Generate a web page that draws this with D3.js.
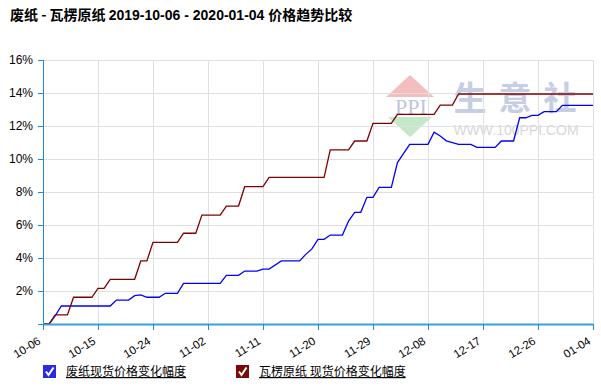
<!DOCTYPE html>
<html>
<head>
<meta charset="utf-8">
<script src="https://cdn.jsdelivr.net/npm/d3@7"></script>
<style>
  body { margin: 0; background: #fff; }
  svg { display: block; }
  .axis text { font-family: Arial, "Liberation Sans", sans-serif; fill: #000; }
</style>
</head>
<body>
<svg id="chart" width="601" height="392"></svg>
<script>
// tick labels
var xTickDates = ["2019-10-06", "2019-10-15", "2019-10-24", "2019-11-02", "2019-11-11", "2019-11-20",
                  "2019-11-29", "2019-12-08", "2019-12-17", "2019-12-26", "2020-01-04"];
var yTicks = [0, 2, 4, 6, 8, 10, 12, 14, 16];

// 废纸 series
var wasteDates = ["2019-10-06", "2019-10-07", "2019-10-08", "2019-10-09", "2019-10-17", "2019-10-18",
  "2019-10-20", "2019-10-21", "2019-10-22", "2019-10-23", "2019-10-25", "2019-10-26", "2019-10-28",
  "2019-10-29", "2019-11-04", "2019-11-05", "2019-11-07", "2019-11-08", "2019-11-10", "2019-11-11",
  "2019-11-12", "2019-11-14", "2019-11-17", "2019-11-18", "2019-11-19", "2019-11-20", "2019-11-21",
  "2019-11-22", "2019-11-24", "2019-11-25", "2019-11-26", "2019-11-27", "2019-11-28", "2019-11-29",
  "2019-11-30", "2019-12-02", "2019-12-03", "2019-12-05", "2019-12-08", "2019-12-09", "2019-12-10",
  "2019-12-11", "2019-12-13", "2019-12-15", "2019-12-16", "2019-12-19", "2019-12-20", "2019-12-22",
  "2019-12-23", "2019-12-24", "2019-12-25", "2019-12-26", "2019-12-27", "2019-12-29", "2019-12-30",
  "2020-01-04"];
var wasteValues = [0, 0, 0.5, 1.09, 1.09, 1.45,
  1.45, 1.72, 1.76, 1.62, 1.62, 1.86, 1.86,
  2.46, 2.46, 2.95, 2.95, 3.21, 3.21, 3.33,
  3.33, 3.82, 3.82, 4.22, 4.55, 5.13, 5.13,
  5.39, 5.39, 6.24, 6.77, 6.77, 7.68, 7.68,
  8.28, 8.28, 9.78, 10.89, 10.89, 11.62, 11.39,
  11.1, 10.89, 10.89, 10.7, 10.7, 11.09, 11.09,
  12.5, 12.5, 12.65, 12.65, 12.87, 12.87, 13.25,
  13.25];

// 瓦楞原纸 series
var paperDates = ["2019-10-06", "2019-10-07", "2019-10-08", "2019-10-10", "2019-10-11", "2019-10-14",
  "2019-10-15", "2019-10-16", "2019-10-17", "2019-10-21", "2019-10-22", "2019-10-23", "2019-10-24",
  "2019-10-28", "2019-10-29", "2019-10-31", "2019-11-01", "2019-11-04", "2019-11-05", "2019-11-07",
  "2019-11-08", "2019-11-11", "2019-11-12", "2019-11-21", "2019-11-22", "2019-11-25", "2019-11-26",
  "2019-11-28", "2019-11-29", "2019-12-02", "2019-12-03", "2019-12-09", "2019-12-10", "2019-12-12",
  "2019-12-13", "2020-01-04"];
var paperValues = [0, 0, 0.55, 0.55, 1.62, 1.62,
  2.16, 2.16, 2.71, 2.71, 3.82, 3.82, 4.95,
  4.95, 5.5, 5.5, 6.6, 6.6, 7.15, 7.15,
  8.32, 8.32, 8.89, 8.89, 10.55, 10.55, 11.09,
  11.09, 12.16, 12.16, 12.71, 12.71, 13.27, 13.27,
  13.94, 13.94];

var seriesNames = ["废纸现货价格变化幅度", "瓦楞原纸 现货价格变化幅度"];
var seriesColors = ["#0000ff", "#800000"];
var boxColors = ["#2a2ae6", "#7a0a0a"];

var parse = d3.utcParse("%Y-%m-%d");
var fmt = d3.utcFormat("%m-%d");

var margin = { top: 60, right: 8, bottom: 68, left: 43 },
    width = 601 - margin.left - margin.right,
    height = 392 - margin.top - margin.bottom;

var svg = d3.select("#chart");

// title
var title = svg.append("text")
    .attr("x", 10).attr("y", 20)
    .style("font-weight", "bold")
    .style("font-size", "14px");
title.append("tspan").style("font-family", "'Noto Sans CJK SC', sans-serif").text("废纸 - 瓦楞原纸 ");
title.append("tspan").style("font-family", "'Liberation Sans Narrow', 'Liberation Sans', sans-serif").text("2019-10-06 - 2020-01-04 ");
title.append("tspan").style("font-family", "'Noto Sans CJK SC', sans-serif").text("价格趋势比较");

var g = svg.append("g")
    .attr("transform", "translate(" + margin.left + "," + margin.top + ")");

var x = d3.scaleUtc()
    .domain([parse(xTickDates[0]), parse(xTickDates[xTickDates.length - 1])])
    .range([0, width]);
var y = d3.scaleLinear().domain([0, 16]).range([height, 0]);

// watermark
var wm = g.append("g").attr("opacity", 0.9);
wm.append("path").attr("d", "M367,15 L391,37 L343,37 Z").attr("fill", "#f4b8b8");
wm.append("path").attr("d", "M345,57 L389,57 L367,77 Z").attr("fill", "#bfe6c4");
wm.append("text").attr("x", 368).attr("y", 54).attr("text-anchor", "middle")
    .style("font-family", "'Liberation Serif', serif").style("font-size", "22px")
    .attr("fill", "#b8c0da").text("PPI");
wm.append("text").attr("x", 478).attr("y", 50).attr("text-anchor", "middle")
    .style("font-family", "'Noto Sans CJK SC', sans-serif").style("font-weight", "bold")
    .style("font-size", "33px").style("letter-spacing", "12px")
    .attr("fill", "#c0c9e0").text("生意社");
wm.append("text").attr("x", 473).attr("y", 75).attr("text-anchor", "middle")
    .style("font-family", "Arial, 'Liberation Sans', sans-serif")
    .style("font-size", "14px").attr("fill", "#d4d4d4").text("WWW.100PPI.COM");

// grid
g.append("g").selectAll("line.h").data(yTicks.slice(1)).enter().append("line")
    .attr("x1", 0).attr("x2", width)
    .attr("y1", function(d) { return Math.round(y(d)) + 0.5; })
    .attr("y2", function(d) { return Math.round(y(d)) + 0.5; })
    .attr("stroke", "#e0e0e0");
g.append("g").selectAll("line.v").data(xTickDates.slice(1)).enter().append("line")
    .attr("y1", 0).attr("y2", height)
    .attr("x1", function(d) { return Math.round(x(parse(d))) + 0.5; })
    .attr("x2", function(d) { return Math.round(x(parse(d))) + 0.5; })
    .attr("stroke", "#e0e0e0");

// lines
var line = d3.line()
    .x(function(d) { return x(d.date); })
    .y(function(d) { return y(d.value); });

function toPoints(dates, values) {
  return dates.map(function(d, i) { return { date: parse(d), value: values[i] }; });
}
var series = [toPoints(wasteDates, wasteValues), toPoints(paperDates, paperValues)];

g.selectAll("path.series").data(series).enter().append("path")
    .attr("class", "series")
    .attr("d", line)
    .attr("fill", "none")
    .attr("stroke", function(d, i) { return seriesColors[i]; })
    .attr("stroke-width", 1.3);

// y axis
var yAxis = g.append("g").attr("class", "axis")
    .call(d3.axisLeft(y).tickValues(yTicks).tickSize(5).tickPadding(5)
      .tickFormat(function(d) { return d === 0 ? "" : d + "%"; }));
yAxis.select(".domain").attr("stroke", "#1a8fd1").attr("d", "M0.5," + height + "V0");
yAxis.selectAll(".tick line").attr("stroke", "#1a8fd1");
yAxis.selectAll("text").style("font-size", "12px");

// x axis
var xAxis = g.append("g").attr("class", "axis")
    .attr("transform", "translate(0," + height + ")")
    .call(d3.axisBottom(x).tickValues(xTickDates.map(parse)).tickSize(6).tickFormat(fmt));
xAxis.select(".domain").attr("stroke", "#3b9ddb").attr("stroke-width", 2).attr("d", "M0,0.5H" + width);
xAxis.selectAll(".tick line").attr("stroke", "#1a8fd1");
xAxis.selectAll("text")
    .style("font-size", "11.5px")
    .attr("text-anchor", "end")
    .attr("dy", null)
    .attr("y", 0)
    .attr("transform", "translate(-2,19) rotate(-32)");

// legend
var legendX = [43, 236];
var legend = svg.append("g").selectAll("g").data(seriesNames).enter().append("g")
    .attr("transform", function(d, i) { return "translate(" + legendX[i] + ",365)"; });
legend.append("rect").attr("width", 13).attr("height", 13)
    .attr("fill", function(d, i) { return boxColors[i]; });
legend.append("path").attr("d", "M3,6.5 L5.5,10 L10.5,2.5")
    .attr("fill", "none").attr("stroke", "#fff").attr("stroke-width", 2);
legend.append("text").attr("x", 23).attr("y", 11)
    .style("font-family", "'Noto Sans CJK SC', sans-serif").style("font-size", "12px")
    .style("text-decoration", "underline")
    .text(function(d) { return d; });
</script>
</body>
</html>
